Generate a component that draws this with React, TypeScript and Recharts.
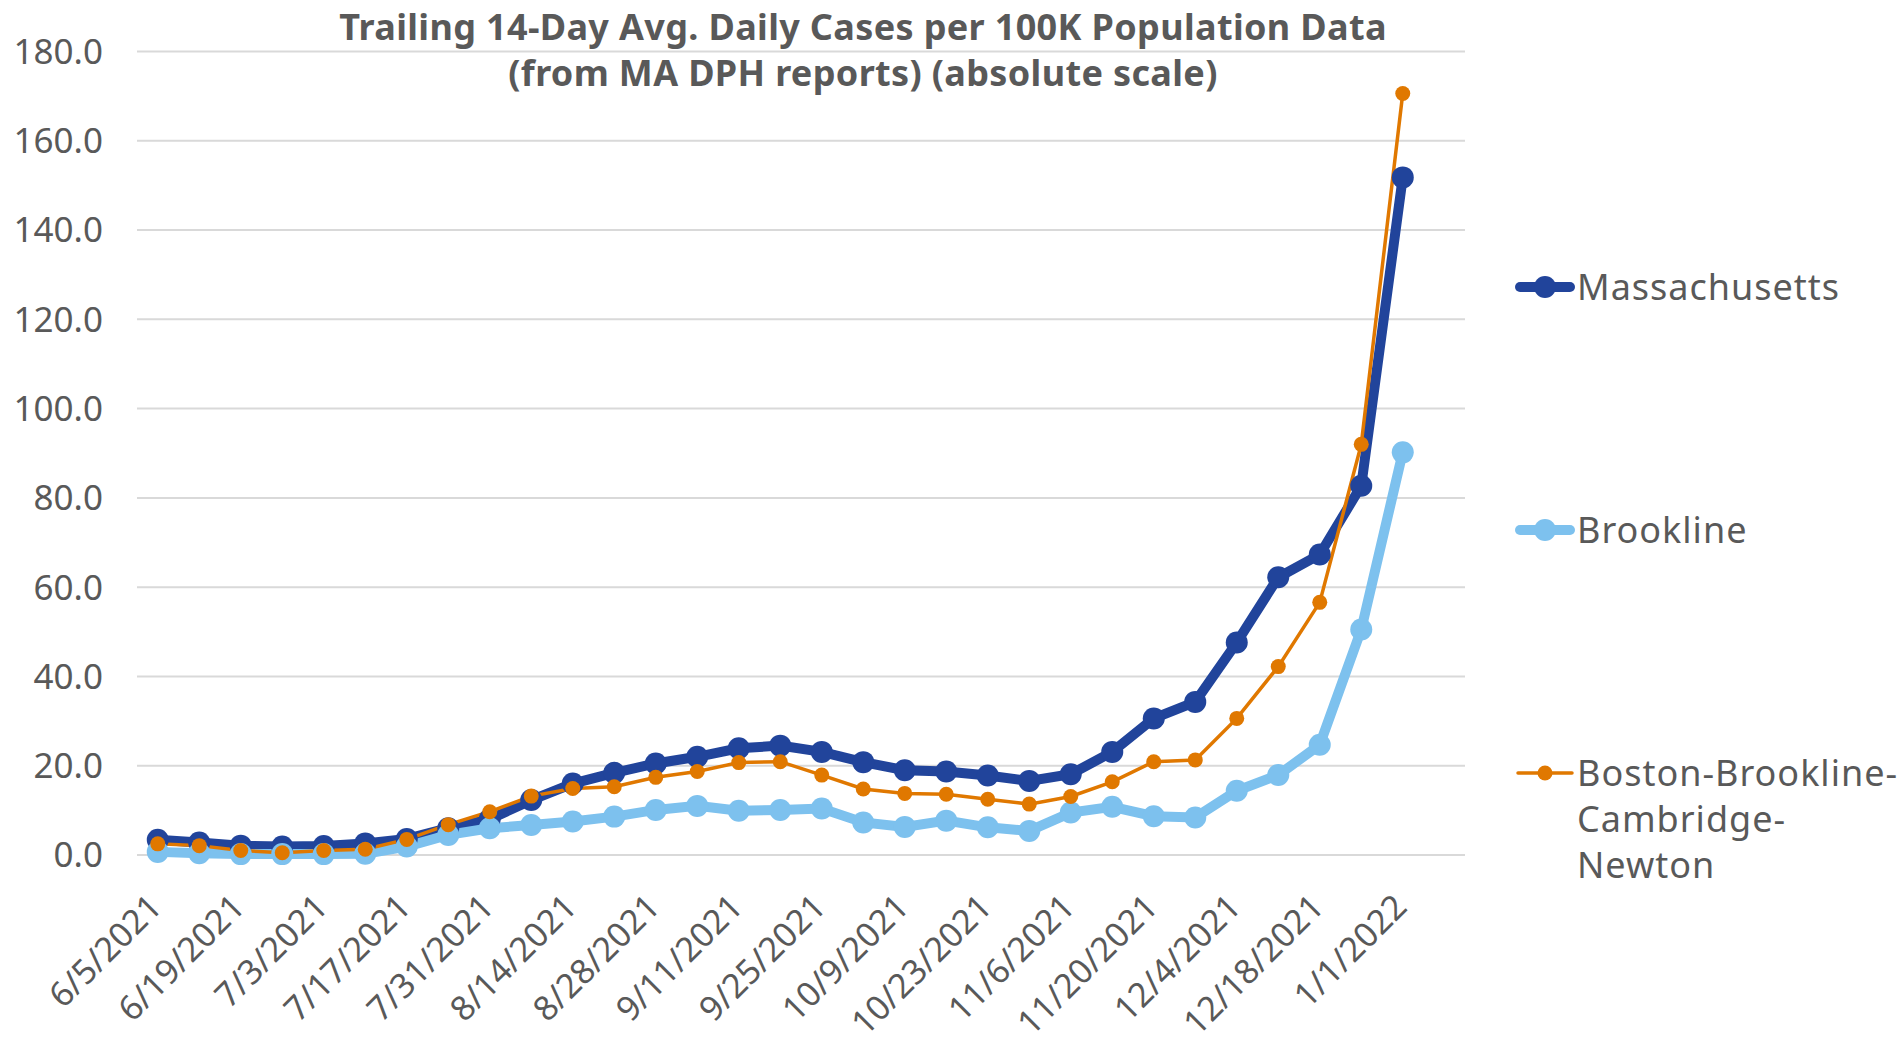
import React from 'react';
import { LineChart, Line, XAxis, YAxis, CartesianGrid, Legend } from 'recharts';

const weeks = [
  '6/5/2021', '6/12/2021', '6/19/2021', '6/26/2021', '7/3/2021', '7/10/2021', '7/17/2021', '7/24/2021',
  '7/31/2021', '8/7/2021', '8/14/2021', '8/21/2021', '8/28/2021', '9/4/2021', '9/11/2021', '9/18/2021',
  '9/25/2021', '10/2/2021', '10/9/2021', '10/16/2021', '10/23/2021', '10/30/2021', '11/6/2021', '11/13/2021',
  '11/20/2021', '11/27/2021', '12/4/2021', '12/11/2021', '12/18/2021', '12/25/2021', '1/1/2022',
];

const massachusetts = [
  3.4, 2.8, 2.1, 1.9, 2.0, 2.6, 3.6, 6.0, 8.0, 12.3, 16.0, 18.4, 20.5, 22.0, 23.9, 24.5,
  23.1, 20.8, 19.0, 18.7, 17.8, 16.6, 18.1, 23.1, 30.6, 34.3, 47.6, 62.2, 67.3, 82.7, 151.8,
];

const brookline = [
  0.7, 0.4, 0.2, 0.2, 0.2, 0.3, 1.9, 4.5, 6.0, 6.7, 7.5, 8.6, 10.1, 11.0, 9.9, 10.1,
  10.4, 7.3, 6.3, 7.7, 6.2, 5.4, 9.5, 10.8, 8.7, 8.4, 14.4, 17.9, 24.7, 50.5, 90.2,
];

const bostonBrooklineCambridgeNewton = [
  2.5, 2.1, 1.0, 0.5, 1.0, 1.3, 3.5, 6.8, 9.7, 13.2, 14.9, 15.3, 17.4, 18.7, 20.7, 20.9,
  17.9, 14.8, 13.8, 13.6, 12.5, 11.4, 13.1, 16.4, 20.9, 21.3, 30.6, 42.2, 56.6, 92.0, 170.6,
];

const yTicks = [0, 20, 40, 60, 80, 100, 120, 140, 160, 180];

const titleLines = [
  'Trailing 14-Day Avg. Daily Cases per 100K Population Data',
  '(from MA DPH reports) (absolute scale)',
];

const seriesNames = ['Massachusetts', 'Brookline', 'Boston-Brookline-Cambridge-Newton'];

const data = weeks.map((week, i) => ({
  week,
  ma: massachusetts[i],
  br: brookline[i],
  bbcn: bostonBrooklineCambridgeNewton[i],
}));

const FONT = '"Noto Sans", sans-serif';
const GREY = '#595959';
const C_MA = '#21449b';
const C_BR = '#7dc1ee';
const C_BBCN = '#e07800';

const legendCfg: Record<string, { color: string; w: number; r: number; lines: string[]; cy: number }> = {
  ma: { color: C_MA, w: 10, r: 11, lines: ['Massachusetts'], cy: 287 },
  br: { color: C_BR, w: 10, r: 11, lines: ['Brookline'], cy: 530 },
  bbcn: { color: C_BBCN, w: 3.5, r: 7.5, lines: ['Boston-Brookline-', 'Cambridge-', 'Newton'], cy: 773 },
};

const XTick = (props: any) => {
  const { x, y, payload } = props;
  const ax = x + 6;
  const ay = y + 54;
  return (
    <text
      x={ax}
      y={ay}
      transform={`rotate(-45 ${ax} ${ay})`}
      textAnchor="end"
      fill={GREY}
      fontSize={34}
      fontFamily={FONT}
    >
      {payload.value}
    </text>
  );
};

const LegendContent = (props: any) => {
  const payload = props.payload || [];
  return (
    <div style={{ position: 'relative', width: 390, height: 1045 }}>
      {payload.map((entry: any) => {
        const key = entry.dataKey as string;
        const st = legendCfg[key];
        if (!st) return null;
        const thick = st.w > 5;
        return (
          <div key={key} style={{ position: 'absolute', left: 0, top: st.cy - 23 }}>
            <svg width={62} height={46} style={{ position: 'absolute', left: 0, top: 0 }}>
              <line
                x1={thick ? 6 : 4}
                y1={23}
                x2={thick ? 56 : 58}
                y2={23}
                stroke={st.color}
                strokeWidth={st.w}
                strokeLinecap="round"
              />
              <circle cx={31} cy={23} r={st.r} fill={st.color} />
            </svg>
            <div
              style={{
                position: 'absolute',
                left: 63,
                top: 0,
                fontFamily: FONT,
                fontSize: 36,
                letterSpacing: 1,
                lineHeight: '46px',
                color: GREY,
                whiteSpace: 'nowrap',
              }}
            >
              {st.lines.map((l: string, j: number) => (
                <div key={j}>{l}</div>
              ))}
            </div>
          </div>
        );
      })}
    </div>
  );
};

export default function App() {
  return (
    <div style={{ position: 'absolute', left: 0, top: 0, width: 1902, height: 1045, background: '#fff' }}>
      <div
        style={{
          position: 'absolute',
          left: 0,
          top: 4,
          width: 1726,
          textAlign: 'center',
          fontFamily: FONT,
          fontWeight: 700,
          fontSize: 36,
          letterSpacing: 0.35,
          lineHeight: '46px',
          color: GREY,
          whiteSpace: 'nowrap',
          zIndex: 2,
        }}
      >
        {titleLines.map((t, i) => (
          <div key={i}>{t}</div>
        ))}
      </div>
      <LineChart
        width={1902}
        height={1045}
        data={data}
        margin={{ top: 51.5, right: 437, bottom: 0, left: 17 }}
      >
        <CartesianGrid vertical={false} stroke="#d9d9d9" strokeWidth={2} />
        <XAxis
          dataKey="week"
          interval={1}
          tick={<XTick />}
          tickLine={false}
          axisLine={false}
          tickSize={0}
          tickMargin={0}
          height={190}
          padding={{ left: 20.75, right: 62.25 }}
        />
        <YAxis
          domain={[0, 180]}
          ticks={yTicks}
          tickFormatter={(v: number) => v.toFixed(1)}
          width={120}
          tickLine={false}
          axisLine={false}
          tickSize={0}
          tickMargin={34}
          tick={{ fill: GREY, fontSize: 35, fontFamily: FONT }}
        />
        <Legend
          layout="vertical"
          align="center"
          verticalAlign="middle"
          content={<LegendContent />}
          wrapperStyle={{ left: 1514, top: 0, width: 390, height: 1045 }}
        />
        <Line
          name={seriesNames[0]}
          dataKey="ma"
          stroke={C_MA}
          strokeWidth={10}
          dot={{ r: 11, fill: C_MA, stroke: 'none' }}
          isAnimationActive={false}
        />
        <Line
          name={seriesNames[1]}
          dataKey="br"
          stroke={C_BR}
          strokeWidth={10}
          dot={{ r: 11, fill: C_BR, stroke: 'none' }}
          isAnimationActive={false}
        />
        <Line
          name={seriesNames[2]}
          dataKey="bbcn"
          stroke={C_BBCN}
          strokeWidth={3.5}
          dot={{ r: 7.5, fill: C_BBCN, stroke: 'none' }}
          isAnimationActive={false}
        />
      </LineChart>
    </div>
  );
}
